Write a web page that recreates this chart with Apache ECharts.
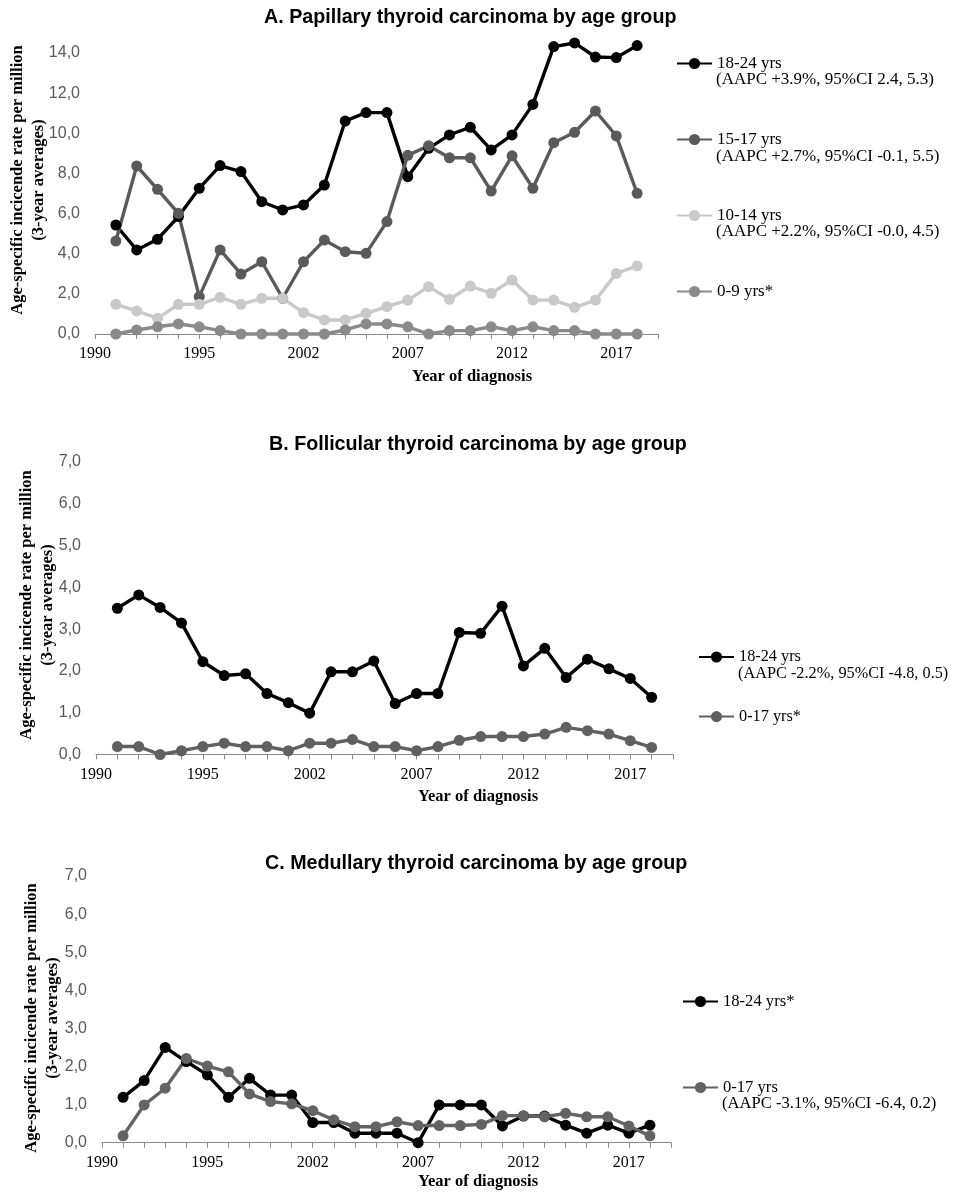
<!DOCTYPE html>
<html>
<head>
<meta charset="utf-8">
<script src="https://cdn.jsdelivr.net/npm/echarts@6/dist/echarts.min.js"></script>
<style>
html,body{margin:0;padding:0;background:#fff;}
#chart{width:954px;height:1192px;}
</style>
</head>
<body>
<div id="chart"></div>
<script>
// Category slots on the x axis (labels as printed in the source; unlabeled slots empty)
const categories = ['1990','','','','','1995','','','','','2002','','','','','2007','','','','','2012','','','','','2017','',''];

// Panel A: Papillary thyroid carcinoma
const papNames = ['18-24 yrs','15-17 yrs','10-14 yrs','0-9 yrs*'];
const papSub = ['(AAPC +3.9%, 95%CI 2.4, 5.3)','(AAPC +2.7%, 95%CI -0.1, 5.5)','(AAPC +2.2%, 95%CI -0.0, 4.5)',''];
const pap18_24 = [null,5.43,4.19,4.72,5.85,7.26,8.39,8.09,6.59,6.18,6.43,7.42,10.61,11.03,11.03,7.84,9.25,9.92,10.3,9.17,9.92,11.44,14.32,14.5,13.8,13.77,14.37,null];
const pap15_17 = [null,4.63,8.37,7.21,6.01,1.86,4.19,2.99,3.6,1.78,3.6,4.68,4.1,4.02,5.6,8.9,9.38,8.78,8.78,7.12,8.88,7.26,9.53,10.05,11.11,9.87,7.01,null];
const pap10_14 = [null,1.48,1.15,0.78,1.48,1.48,1.83,1.48,1.78,1.78,1.06,0.7,0.7,1.03,1.36,1.69,2.36,1.73,2.39,2.03,2.69,1.69,1.69,1.33,1.69,3.02,3.39,null];
const pap0_9 = [null,0,0.2,0.36,0.5,0.36,0.17,0,0,0,0,0,0.2,0.5,0.5,0.36,0,0.17,0.17,0.36,0.17,0.36,0.17,0.17,0,0,0,null];

// Panel B: Follicular thyroid carcinoma
const folNames = ['18-24 yrs','0-17 yrs*'];
const folSub = ['(AAPC -2.2%, 95%CI -4.8, 0.5)',''];
const fol18_24 = [null,3.5,3.82,3.52,3.15,2.22,1.89,1.93,1.46,1.24,0.99,1.98,1.98,2.24,1.22,1.46,1.46,2.92,2.9,3.55,2.12,2.54,1.84,2.28,2.05,1.82,1.37,null];
const fol0_17 = [null,0.19,0.19,0,0.09,0.19,0.27,0.19,0.19,0.09,0.27,0.27,0.36,0.19,0.19,0.09,0.19,0.34,0.43,0.43,0.43,0.49,0.65,0.57,0.49,0.33,0.17,null];

// Panel C: Medullary thyroid carcinoma
const medNames = ['18-24 yrs*','0-17 yrs'];
const medSub = ['','(AAPC -3.1%, 95%CI -6.4, 0.2)'];
const med18_24 = [null,1.19,1.63,2.5,2.13,1.78,1.19,1.69,1.25,1.25,0.53,0.53,0.25,0.25,0.25,0,0.99,0.99,0.99,0.44,0.7,0.7,0.46,0.25,0.46,0.25,0.46,null];
const med0_17 = [null,0.18,0.99,1.43,2.21,2.01,1.86,1.28,1.08,1.02,0.84,0.6,0.42,0.42,0.55,0.45,0.45,0.45,0.48,0.71,0.71,0.68,0.77,0.68,0.68,0.44,0.18,null];

const titles = ['A. Papillary thyroid carcinoma by age group','B. Follicular thyroid carcinoma by age group','C. Medullary thyroid carcinoma by age group'];
const yName1 = 'Age-specific incicende rate per million';
const yName2 = '(3-year averages)';
const xName = 'Year of diagnosis';

const SERIF = '"Liberation Serif","Times New Roman",serif';
const SANS = '"Liberation Sans",Arial,sans-serif';
const AXIS_GREY = '#8a8a8a';

const grids = [
  {left:95, top:53, width:563, height:281},
  {left:96, top:462, width:577, height:292.5},
  {left:102, top:876, width:569, height:266.7}
];
const yMax = [14, 7, 7];
const yInt = [2, 1, 1];

function xAxisFor(i){
  return {
    type:'category', gridIndex:i, data:categories, boundaryGap:false,
    axisLine:{show:true, lineStyle:{color:AXIS_GREY, width:1}},
    axisTick:{show:true, interval:0, length:5, lineStyle:{color:AXIS_GREY}},
    axisLabel:{interval:0, margin:12, color:'#000', fontFamily:SERIF, fontSize:16},
    splitLine:{show:false}
  };
}
function yAxisFor(i){
  return {
    type:'value', gridIndex:i, min:0, max:yMax[i], interval:yInt[i],
    axisLine:{show:false}, axisTick:{show:false}, splitLine:{show:false},
    axisLabel:{margin:15, color:'#595959', fontFamily:SANS, fontSize:16,
      formatter: v => v.toFixed(1).replace('.', ',')}
  };
}
function mkSeries(name, data, color, idx){
  return {
    type:'line', name:name, data:data, xAxisIndex:idx, yAxisIndex:idx,
    symbol:'circle', symbolSize:11, showSymbol:true, clip:false,
    lineStyle:{color:color, width:3.4}, itemStyle:{color:color},
    emphasis:{disabled:true}, z:2
  };
}

const series = [
  mkSeries(papNames[0], pap18_24, '#000000', 0),
  mkSeries(papNames[1], pap15_17, '#5a5a5a', 0),
  mkSeries(papNames[2], pap10_14, '#c9c9c9', 0),
  mkSeries(papNames[3], pap0_9, '#8a8a8a', 0),
  mkSeries(folNames[0], fol18_24, '#000000', 1),
  mkSeries(folNames[1], fol0_17, '#606060', 1),
  mkSeries(medNames[0], med18_24, '#000000', 2),
  mkSeries(medNames[1], med0_17, '#636363', 2)
];

function legendFor(names, left, top, gap, fs){
  return {
    data:names, orient:'vertical', left:left, top:top, padding:0,
    itemWidth:35, itemHeight:14, itemGap:gap, selectedMode:false,
    textStyle:{fontFamily:SERIF, fontSize:fs, color:'#000'}
  };
}

const legendTextX = [716, 738, 722];
const legendFont = [17, 16.3, 16.6];
const graphic = [];
// y-axis names (two lines, rotated)
const yNamePos = [[28.5,180],[37,605],[42.5,1018]];
yNamePos.forEach(p => {
  graphic.push({type:'text', x:p[0], y:p[1], rotation:Math.PI/2, silent:true,
    style:{text:yName1 + '\n' + yName2, font:'bold 16.5px ' + SERIF, fill:'#000',
      align:'center', verticalAlign:'middle', textAlign:'center', textVerticalAlign:'middle', lineHeight:21}});
});
// x-axis names
const xNamePos = [[472,377],[478,797],[478,1182]];
xNamePos.forEach(p => {
  graphic.push({type:'text', x:p[0], y:p[1], silent:true,
    style:{text:xName, font:'bold 16.5px ' + SERIF, fill:'#000',
      align:'center', verticalAlign:'middle', textAlign:'center', textVerticalAlign:'middle'}});
});
// legend second lines
function subLines(subs, x, ys, fs){
  subs.forEach((s, k) => {
    if (!s) return;
    graphic.push({type:'text', x:x, y:ys[k], silent:true,
      style:{text:s, font:fs + 'px ' + SERIF, fill:'#000', align:'left', verticalAlign:'middle', textAlign:'left', textVerticalAlign:'middle'}});
  });
}
subLines(papSub, legendTextX[0], [80,157,232,0], legendFont[0]);
subLines(folSub, legendTextX[1], [674,0], legendFont[1]);
subLines(medSub, legendTextX[2], [0,1104], legendFont[2]);

const titleLeft = [264, 269, 265];
const titleTop = [8, 435, 854];

const option = {
  backgroundColor:'#fff',
  animation:false,
  title: titles.map((t, i) => ({text:t, left:titleLeft[i], top:titleTop[i], padding:0,
    textStyle:{fontFamily:SANS, fontWeight:'bold', fontSize:19.7, color:'#000'}})),
  grid: grids,
  xAxis: [0,1,2].map(xAxisFor),
  yAxis: [0,1,2].map(yAxisFor),
  legend: [
    legendFor(papNames, 676, 55, 59, legendFont[0]),
    legendFor(folNames, 698, 649, 43.6, legendFont[1]),
    legendFor(medNames, 682, 993, 69, legendFont[2])
  ],
  series: series,
  graphic: graphic
};

const chart = echarts.init(document.getElementById('chart'), null, {renderer:'canvas'});
chart.setOption(option);
</script>
</body>
</html>
